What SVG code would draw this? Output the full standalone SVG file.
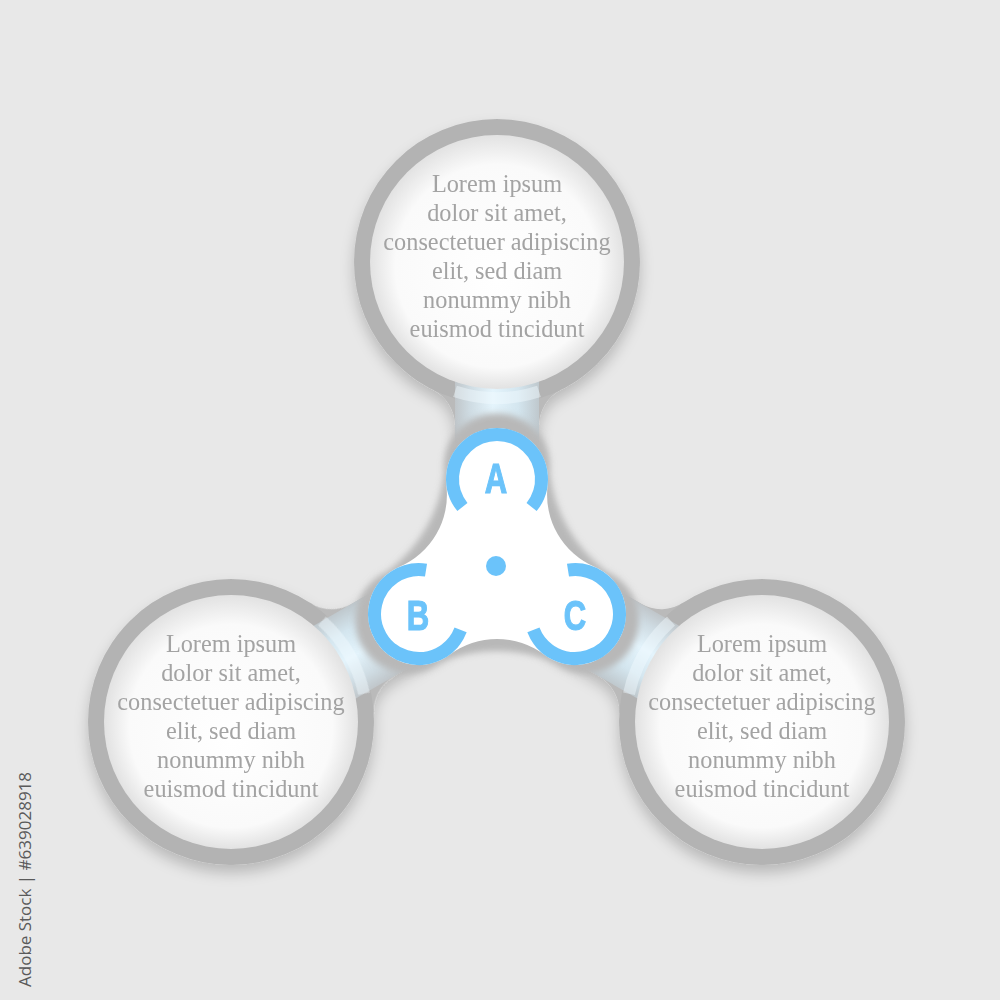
<svg xmlns="http://www.w3.org/2000/svg" width="1000" height="1000" viewBox="0 0 1000 1000">
<defs>
<style>
.txt{font-family:"Liberation Serif","Times New Roman",serif;font-size:24.3px;fill:#a3a3a3;text-anchor:middle}
.ring{fill:#b3b3b3}
.inner{fill:url(#innerGrad)}
.neckGray{fill:#bababa}
.neckBlue{fill:url(#neckGrad)}
.lbl{font-family:"Liberation Sans",Arial,sans-serif;font-weight:700;font-size:42px;fill:#6bc3fa;stroke:#6bc3fa;stroke-width:1.2;text-anchor:middle}
.blue{fill:none;stroke:#6bc3fa;stroke-width:13}
</style>
<radialGradient id="innerGrad" cx="50%" cy="50%" r="50%" fx="50%" fy="58%">
<stop offset="0" stop-color="#ffffff"/>
<stop offset="0.8" stop-color="#fafafa"/>
<stop offset="1" stop-color="#e2e2e2"/>
</radialGradient>
<linearGradient id="neckGrad" gradientUnits="userSpaceOnUse" x1="-42" y1="0" x2="42" y2="0">
<stop offset="0" stop-color="#c0c6ca"/>
<stop offset="0.18" stop-color="#cfdce3"/>
<stop offset="0.45" stop-color="#e4f4fc"/>
<stop offset="0.75" stop-color="#d4e6ef"/>
<stop offset="1" stop-color="#bfc8cd"/>
</linearGradient>
<filter id="shadow" x="-20%" y="-20%" width="140%" height="150%">
<feDropShadow dx="0" dy="8" stdDeviation="7" flood-color="#000" flood-opacity="0.2"/>
</filter>
<filter id="soft" x="-20%" y="-20%" width="140%" height="140%">
<feGaussianBlur stdDeviation="3"/>
</filter>
<path id="neckShape" d="M-64.08,127.84 A40,40 0 0 1 -42,163.6 L-42,225 L42,225 L42,163.6 A40,40 0 0 1 64.08,127.84 Z"/>
<g id="neckBand">
<rect class="neckBlue" x="-42" y="115" width="84" height="110"/>
<path d="M-42,129.35 A136,136 0 0 0 42,129.35" fill="none" stroke="#f2fbff" stroke-width="12" opacity="0.45"/>
</g>
<path id="arcA" class="blue" d="M462.42,507 A44.5,44.5 0 1 1 531.58,507"/>
</defs>
<rect width="1000" height="1000" fill="#e8e8e8"/>

<g id="connectors">
<g filter="url(#shadow)">
<use href="#neckShape" class="neckGray" transform="translate(497,262)"/>
<use href="#neckShape" class="neckGray" transform="translate(231,722) rotate(-120)"/>
<use href="#neckShape" class="neckGray" transform="translate(762,722) rotate(120)"/>
<circle class="ring" cx="497" cy="262" r="143"/>
<circle class="ring" cx="231" cy="722" r="143"/>
<circle class="ring" cx="762" cy="722" r="143"/>
</g>
<use href="#neckBand" transform="translate(497,262)"/>
<use href="#neckBand" transform="translate(231,722) rotate(-120)"/>
<use href="#neckBand" transform="translate(762,722) rotate(120)"/>
</g>

<g id="node-top">
<circle class="inner" cx="497" cy="262" r="127"/>
<text class="txt" x="497" y="192"><tspan x="497">Lorem ipsum</tspan><tspan x="497" dy="28.9">dolor sit amet,</tspan><tspan x="497" dy="28.9">consectetuer adipiscing</tspan><tspan x="497" dy="28.9">elit, sed diam</tspan><tspan x="497" dy="28.9">nonummy nibh</tspan><tspan x="497" dy="28.9">euismod tincidunt</tspan></text>
</g>
<g id="node-left">
<circle class="inner" cx="231" cy="722" r="127"/>
<text class="txt" x="231" y="652"><tspan x="231">Lorem ipsum</tspan><tspan x="231" dy="28.9">dolor sit amet,</tspan><tspan x="231" dy="28.9">consectetuer adipiscing</tspan><tspan x="231" dy="28.9">elit, sed diam</tspan><tspan x="231" dy="28.9">nonummy nibh</tspan><tspan x="231" dy="28.9">euismod tincidunt</tspan></text>
</g>
<g id="node-right">
<circle class="inner" cx="762" cy="722" r="127"/>
<text class="txt" x="762" y="652"><tspan x="762">Lorem ipsum</tspan><tspan x="762" dy="28.9">dolor sit amet,</tspan><tspan x="762" dy="28.9">consectetuer adipiscing</tspan><tspan x="762" dy="28.9">elit, sed diam</tspan><tspan x="762" dy="28.9">nonummy nibh</tspan><tspan x="762" dy="28.9">euismod tincidunt</tspan></text>
</g>

<g id="node-hub">
<path fill="#b8b8b8" filter="url(#soft)" d="M444.38,472.73 A53,53 0 1 1 549.62,472.73 A144.8,144.8 0 0 0 606.68,571.56 A53,53 0 1 1 554.06,662.71 A144.8,144.8 0 0 0 439.94,662.7 A53,53 0 1 1 387.32,571.56 A144.8,144.8 0 0 0 444.38,472.73 Z"/>
<path fill="#ffffff" d="M446.37,485.13 A51,51 0 1 1 547.63,485.13 A78.8,78.8 0 0 0 594.95,567.09 A51,51 0 1 1 544.31,654.79 A78.8,78.8 0 0 0 449.68,654.78 A51,51 0 1 1 399.05,567.09 A78.8,78.8 0 0 0 446.37,485.13 Z"/>
<use href="#arcA"/>
<use href="#arcA" transform="rotate(120 497 569)"/>
<use href="#arcA" transform="rotate(-120 497 569)"/>
<circle cx="496" cy="566" r="10" fill="#6bc3fa"/>
<text class="lbl" transform="translate(496,493) scale(0.74,1)">A</text>
<text class="lbl" transform="translate(418,630) scale(0.74,1)">B</text>
<text class="lbl" transform="translate(575,630) scale(0.74,1)">C</text>
</g>

<text transform="translate(31,987) rotate(-90)" font-family="'Open Sans','Liberation Sans',sans-serif" font-size="17" fill="#5a5a5a">Adobe Stock | #639028918</text>
</svg>
